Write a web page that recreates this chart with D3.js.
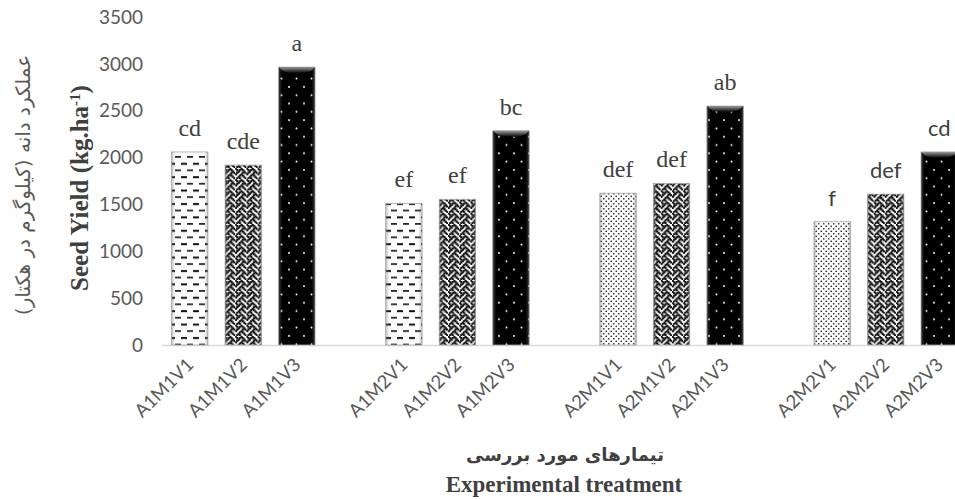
<!DOCTYPE html>
<html>
<head>
<meta charset="utf-8">
<script src="https://cdn.jsdelivr.net/npm/d3@7/dist/d3.min.js"></script>
<style>
  html, body { margin: 0; padding: 0; background: #fff; }
  svg { display: block; }
</style>
</head>
<body>
<svg id="chart" width="955" height="499"></svg>
<script>
const categories = ['A1M1V1', 'A1M1V2', 'A1M1V3', 'A1M2V1', 'A1M2V2', 'A1M2V3',
                    'A2M1V1', 'A2M1V2', 'A2M1V3', 'A2M2V1', 'A2M2V2', 'A2M2V3'];
const yields = [2060, 1920, 2965, 1510, 1555, 2285, 1620, 1725, 2550, 1315, 1610, 2060];
const letters = ['cd', 'cde', 'a', 'ef', 'ef', 'bc', 'def', 'def', 'ab', 'f', 'def', 'cd'];
const yTicks = [0, 500, 1000, 1500, 2000, 2500, 3000, 3500];

const TEXT = '#595959';
const svg = d3.select('#chart');

// slots: three bars per treatment group, one empty slot between groups
const groups = d3.groups(categories, c => c.slice(0, 4));
const slots = [];
groups.forEach(([g, cats], i) => {
  cats.forEach(c => slots.push(c));
  if (i < groups.length - 1) slots.push('gap' + i);
});

const x = d3.scaleBand()
  .domain(slots)
  .range([163, 966])
  .paddingInner(0.32)
  .paddingOuter(0.16);

const y = d3.scaleLinear()
  .domain([0, 3500])
  .range([345, 17]);

// ---- patterns
const defs = svg.append('defs');

// dashes (A1 .. V1)
const pDash = defs.append('pattern').attr('id', 'dash')
  .attr('patternUnits', 'userSpaceOnUse').attr('width', 12).attr('height', 13.4);
pDash.append('rect').attr('width', 12).attr('height', 13.4).attr('fill', '#fff');
pDash.append('rect').attr('x', 1).attr('y', 2).attr('width', 6).attr('height', 2).attr('fill', '#111');
pDash.append('rect').attr('x', 7).attr('y', 8.7).attr('width', 6).attr('height', 1.6).attr('fill', '#111');
pDash.append('rect').attr('x', -5).attr('y', 8.7).attr('width', 6).attr('height', 1.6).attr('fill', '#111');

// weave (V2)
const weaveBits = ['10001000', '01010100', '00100010', '01000101',
                   '10001000', '00010100', '00100010', '01010001'];
const cell = 1.4;
const pWeave = defs.append('pattern').attr('id', 'weave')
  .attr('patternUnits', 'userSpaceOnUse').attr('width', 8 * cell).attr('height', 8 * cell);
pWeave.append('rect').attr('width', 8 * cell).attr('height', 8 * cell).attr('fill', '#fff');
weaveBits.forEach((row, r) => {
  row.split('').forEach((b, c) => {
    if (b === '1') {
      pWeave.append('rect').attr('x', c * cell - 0.4).attr('y', r * cell - 0.4)
        .attr('width', cell + 0.8).attr('height', cell + 0.8).attr('fill', '#0d0d0d');
    }
  });
});

// small black dots (A2 .. V1)
const pDots = defs.append('pattern').attr('id', 'dots')
  .attr('patternUnits', 'userSpaceOnUse').attr('width', 5).attr('height', 5);
pDots.append('rect').attr('width', 5).attr('height', 5).attr('fill', '#fff');
pDots.append('circle').attr('cx', 1.25).attr('cy', 1.25).attr('r', 0.85).attr('fill', '#222');
pDots.append('circle').attr('cx', 3.75).attr('cy', 3.75).attr('r', 0.85).attr('fill', '#222');

// black with white dots (V3)
const pBlack = defs.append('pattern').attr('id', 'black')
  .attr('patternUnits', 'userSpaceOnUse').attr('width', 15).attr('height', 16.6);
pBlack.append('rect').attr('width', 15).attr('height', 16.6).attr('fill', '#000');
pBlack.append('circle').attr('cx', 4).attr('cy', 4).attr('r', 1).attr('fill', '#fff');
pBlack.append('circle').attr('cx', 11.5).attr('cy', 12.3).attr('r', 1).attr('fill', '#fff');

// edge shading to imitate the bevel
const edge = defs.append('linearGradient').attr('id', 'edge');
[[0, 0.45], [0.1, 0], [0.9, 0], [1, 0.45]].forEach(([o, a]) => {
  edge.append('stop').attr('offset', o).attr('stop-color', '#777').attr('stop-opacity', a);
});
const topGlow = defs.append('linearGradient').attr('id', 'topglow')
  .attr('x1', 0).attr('y1', 0).attr('x2', 0).attr('y2', 1);
topGlow.append('stop').attr('offset', 0).attr('stop-color', '#9a9a9a');
topGlow.append('stop').attr('offset', 1).attr('stop-color', '#000');

function patternOf(c) {
  if (c.endsWith('V3')) return 'black';
  if (c.endsWith('V2')) return 'weave';
  return c.startsWith('A1') ? 'dash' : 'dots';
}

// ---- y axis tick labels
svg.append('g').selectAll('text').data(yTicks).join('text')
  .attr('x', 143)
  .attr('y', d => y(d))
  .attr('dy', '0.35em')
  .attr('text-anchor', 'end')
  .style('font-family', 'Lato, sans-serif')
  .style('font-size', '19px')
  .attr('fill', TEXT)
  .text(d => d);

// baseline
svg.append('line')
  .attr('x1', 162).attr('x2', 955)
  .attr('y1', y(0) + 0.5).attr('y2', y(0) + 0.5)
  .attr('stroke', '#d9d9d9').attr('stroke-width', 1.5);

// ---- bars
const data = categories.map((c, i) => ({ c, v: yields[i], l: letters[i] }));
const bars = svg.append('g').selectAll('g').data(data).join('g');

bars.append('rect')
  .attr('x', d => x(d.c))
  .attr('y', d => y(d.v))
  .attr('width', x.bandwidth())
  .attr('height', d => y(0) - y(d.v))
  .attr('fill', d => 'url(#' + patternOf(d.c) + ')')
  .attr('stroke', '#aaa')
  .attr('stroke-width', 0.8);

bars.append('rect')
  .attr('x', d => x(d.c))
  .attr('y', d => y(d.v))
  .attr('width', x.bandwidth())
  .attr('height', d => y(0) - y(d.v))
  .attr('fill', 'url(#edge)');

bars.filter(d => patternOf(d.c) === 'black').append('path')
  .attr('d', d => {
    const x0 = x(d.c), w = x.bandwidth(), t = y(d.v);
    return `M${x0 + 1},${t} L${x0 + w - 1},${t} Q${x0 + w - 3},${t + 6} ${x0 + w / 2},${t + 6} Q${x0 + 3},${t + 6} ${x0 + 1},${t} Z`;
  })
  .attr('fill', 'url(#topglow)');

// significance letters
bars.append('text')
  .attr('x', d => x(d.c) + x.bandwidth() / 2)
  .attr('y', d => y(d.v) - 16)
  .attr('text-anchor', 'middle')
  .style('font-family', d => d.c.startsWith('A2M2') ? 'Lato, sans-serif' : '"Liberation Serif", serif')
  .style('font-size', d => d.c.startsWith('A2M2') ? '22px' : '24px')
  .attr('fill', '#404040')
  .text(d => d.l);

// ---- x tick labels
svg.append('g').selectAll('text').data(categories).join('text')
  .attr('transform', d => `translate(${x(d) + x.bandwidth() / 2 + 5},${366}) rotate(-45)`)
  .attr('text-anchor', 'end')
  .style('font-family', 'Lato, sans-serif')
  .style('font-size', '18.5px')
  .attr('fill', TEXT)
  .text(d => d);

// ---- axis titles
svg.append('text')
  .attr('transform', 'translate(30,185) rotate(-90)')
  .attr('text-anchor', 'middle')
  .attr('direction', 'rtl')
  .style('font-family', '"DejaVu Sans", sans-serif')
  .style('font-size', '20px')
  .attr('fill', TEXT)
  .text('عملکرد دانه (کیلوگرم در هکتار)');

const yt = svg.append('text')
  .attr('transform', 'translate(88,188) rotate(-90)')
  .attr('text-anchor', 'middle')
  .style('font-family', '"Liberation Serif", serif')
  .style('font-weight', 'bold')
  .style('font-size', '25px')
  .attr('fill', '#404040');
yt.append('tspan').text('Seed Yield (kg.ha');
yt.append('tspan').attr('baseline-shift', 'super').style('font-size', '15px').text('-1');
yt.append('tspan').text(')');

svg.append('text')
  .attr('x', 565).attr('y', 461)
  .attr('text-anchor', 'middle')
  .attr('direction', 'rtl')
  .style('font-family', '"DejaVu Sans", sans-serif')
  .style('font-weight', 'bold')
  .style('font-size', '18px')
  .attr('fill', '#404040')
  .text('تیمارهای مورد بررسی');

svg.append('text')
  .attr('x', 564).attr('y', 492)
  .attr('text-anchor', 'middle')
  .style('font-family', '"Liberation Serif", serif')
  .style('font-weight', 'bold')
  .style('font-size', '23px')
  .attr('fill', '#404040')
  .text('Experimental treatment');
</script>
</body>
</html>
